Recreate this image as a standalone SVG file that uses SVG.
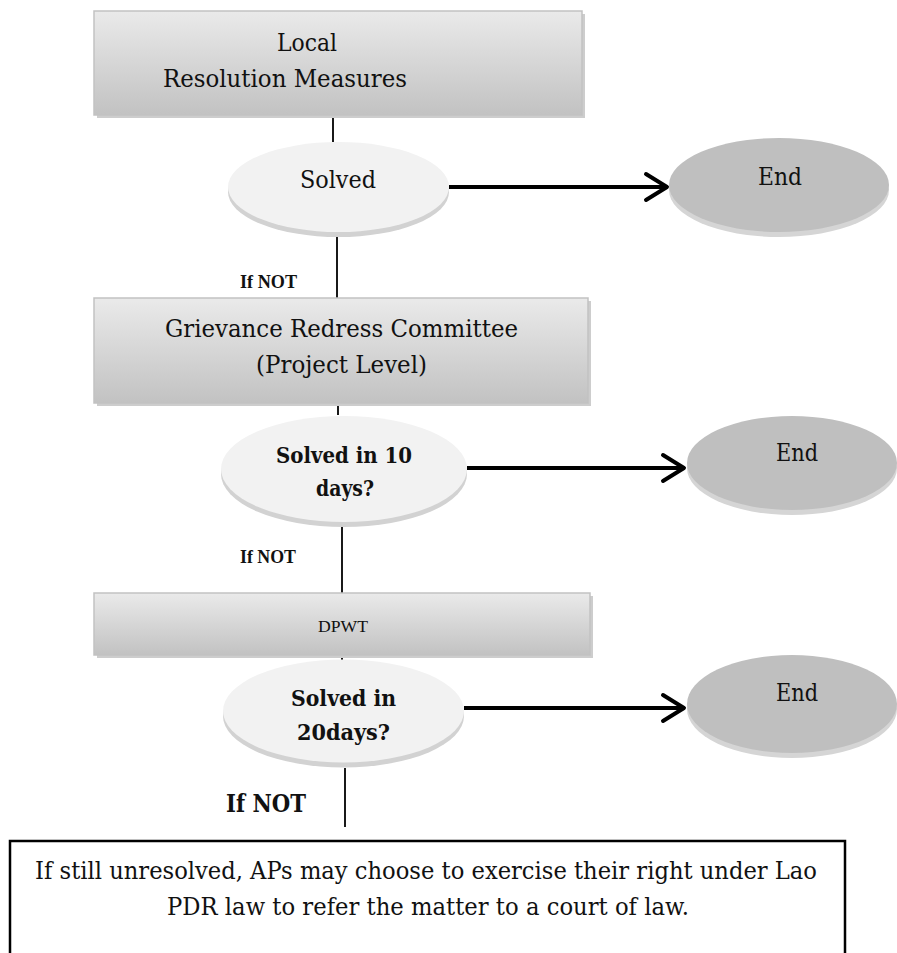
<svg xmlns="http://www.w3.org/2000/svg" width="897" height="953" viewBox="0 0 897 953">
<defs>
<linearGradient id="boxGrad" x1="0" y1="0" x2="0" y2="1">
<stop offset="0" stop-color="#eaeaea"/>
<stop offset="1" stop-color="#c2c2c2"/>
</linearGradient>
<marker id="chev" markerUnits="userSpaceOnUse" markerWidth="32" markerHeight="34" refX="24" refY="16" orient="auto">
<polyline points="3,3 24,16 3,29" fill="none" stroke="#000" stroke-width="4" stroke-linecap="round" stroke-linejoin="round"/>
</marker>
</defs>
<style>
.box{fill:url(#boxGrad);stroke:#c2c2c2;stroke-width:1.5}
.boxsh{fill:#cdcdcd}
.q{fill:#f2f2f2}
.qsh{fill:#d2d2d2}
.end{fill:#bfbfbf}
.endsh{fill:#d5d5d5}
.t{font-family:'DejaVu Serif','Liberation Serif',serif;fill:#111;font-size:24px}
.tb{font-family:'DejaVu Serif','Liberation Serif',serif;fill:#111;font-size:23px;font-weight:bold}
.s{font-family:'Liberation Serif',serif;fill:#111;font-size:17.5px}
.sb{font-family:'Liberation Serif',serif;fill:#111;font-size:18.5px;font-weight:bold}
.ln{stroke:#000;stroke-width:1.8;fill:none}
.ar{stroke:#000;stroke-width:4;fill:none;marker-end:url(#chev)}
</style>
<g id="connectors">
<line class="ln" x1="333" y1="115" x2="333" y2="142"/>
<line class="ln" x1="337" y1="237" x2="337" y2="298"/>
<line class="ln" x1="338" y1="403" x2="338" y2="415"/>
<line class="ln" x1="342" y1="527" x2="342" y2="593"/>
<line class="ln" x1="342" y1="655" x2="342" y2="660"/>
<line class="ln" x1="345" y1="768" x2="345" y2="827"/>
<line class="ar" x1="449" y1="187" x2="667" y2="187"/>
<line class="ar" x1="467" y1="468" x2="684" y2="468"/>
<line class="ar" x1="464" y1="708" x2="684" y2="708"/>
</g>
<g id="n-local">
<rect class="boxsh" x="97" y="14" width="488" height="104"/>
<rect class="box" x="94" y="11" width="488" height="104"/>
<text class="t" x="307" y="51" text-anchor="middle" textLength="60" lengthAdjust="spacingAndGlyphs">Local</text>
<text class="t" x="285" y="87" text-anchor="middle" textLength="244" lengthAdjust="spacingAndGlyphs">Resolution Measures</text>
</g>
<g id="n-solved1">
<ellipse class="qsh" cx="338.5" cy="192" rx="110.5" ry="45"/>
<ellipse class="q" cx="338.5" cy="187" rx="110.5" ry="45"/>
<text class="t" x="338" y="188" text-anchor="middle" textLength="76" lengthAdjust="spacingAndGlyphs">Solved</text>
</g>
<g id="n-end1">
<ellipse class="endsh" cx="779" cy="190" rx="110" ry="47"/>
<ellipse class="end" cx="779" cy="185" rx="110" ry="47"/>
<text class="t" x="780" y="185" text-anchor="middle" textLength="44" lengthAdjust="spacingAndGlyphs">End</text>
</g>
<text class="sb" x="240" y="288" textLength="57" lengthAdjust="spacingAndGlyphs">If NOT</text>
<g id="n-grc">
<rect class="boxsh" x="97" y="301" width="494" height="105"/>
<rect class="box" x="94" y="298" width="494" height="105"/>
<text class="t" x="341.5" y="337" text-anchor="middle" textLength="353" lengthAdjust="spacingAndGlyphs">Grievance Redress Committee</text>
<text class="t" x="341.5" y="373" text-anchor="middle" textLength="171" lengthAdjust="spacingAndGlyphs">(Project Level)</text>
</g>
<g id="n-solved2">
<ellipse class="qsh" cx="344" cy="474" rx="123" ry="53"/>
<ellipse class="q" cx="344" cy="469" rx="123" ry="53"/>
<text class="tb" x="344" y="463" text-anchor="middle" textLength="136" lengthAdjust="spacingAndGlyphs">Solved in 10</text>
<text class="tb" x="345" y="496" text-anchor="middle" textLength="58" lengthAdjust="spacingAndGlyphs">days?</text>
</g>
<g id="n-end2">
<ellipse class="endsh" cx="792" cy="468" rx="105" ry="47"/>
<ellipse class="end" cx="792" cy="463" rx="105" ry="47"/>
<text class="t" x="797" y="461" text-anchor="middle" textLength="42" lengthAdjust="spacingAndGlyphs">End</text>
</g>
<text class="sb" x="240" y="563" textLength="56" lengthAdjust="spacingAndGlyphs">If NOT</text>
<g id="n-dpwt">
<rect class="boxsh" x="97" y="596" width="496" height="62"/>
<rect class="box" x="94" y="593" width="496" height="62"/>
<text class="s" x="343" y="632" text-anchor="middle" textLength="50" lengthAdjust="spacingAndGlyphs">DPWT</text>
</g>
<g id="n-solved3">
<ellipse class="qsh" cx="343.5" cy="716" rx="120.5" ry="51.5"/>
<ellipse class="q" cx="343.5" cy="711" rx="120.5" ry="51.5"/>
<text class="tb" x="343.5" y="706" text-anchor="middle" textLength="105" lengthAdjust="spacingAndGlyphs">Solved in</text>
<text class="tb" x="343.5" y="740" text-anchor="middle" textLength="93" lengthAdjust="spacingAndGlyphs">20days?</text>
</g>
<g id="n-end3">
<ellipse class="endsh" cx="792" cy="709" rx="105" ry="49"/>
<ellipse class="end" cx="792" cy="704" rx="105" ry="49"/>
<text class="t" x="797" y="701" text-anchor="middle" textLength="42" lengthAdjust="spacingAndGlyphs">End</text>
</g>
<text class="tb" x="226" y="812" style="font-size:25px" textLength="80" lengthAdjust="spacingAndGlyphs">If NOT</text>
<g id="n-court">
<path d="M10,960 V841 H845 V960" fill="#fff" stroke="#000" stroke-width="2.5"/>
<text class="t" x="426" y="879" text-anchor="middle" textLength="782" lengthAdjust="spacingAndGlyphs">If still unresolved, APs may choose to exercise their right under Lao</text>
<text class="t" x="428" y="915" text-anchor="middle" textLength="522" lengthAdjust="spacingAndGlyphs">PDR law to refer the matter to a court of law.</text>
</g>
</svg>
